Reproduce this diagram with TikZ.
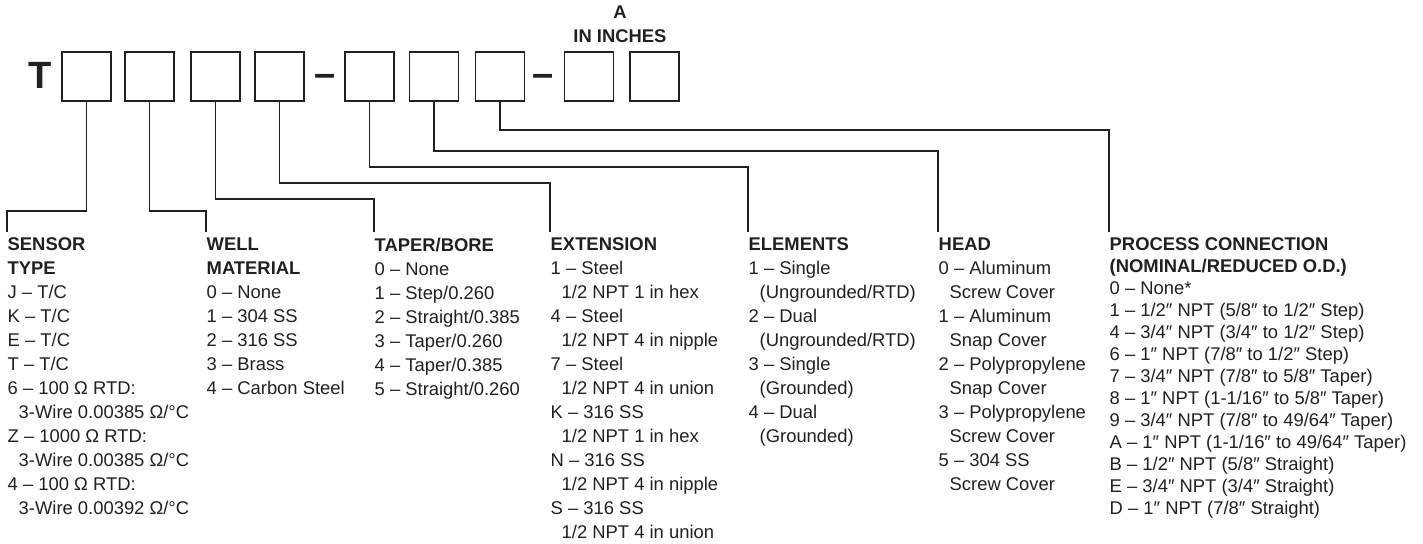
\documentclass[tikz,border=0pt]{standalone}
\usepackage{fontspec}
\setmainfont{Liberation Sans}
\definecolor{ink}{RGB}{35,31,32}
\newcommand{\ind}{\hspace*{5.5pt}}

\begin{document}
\begin{tikzpicture}[x=0.5pt, y=-0.5pt, ink, line width=0.7pt,
  codebox/.style={draw, line width=0.85pt, minimum width=24.5pt, minimum height=24.5pt, inner sep=0pt},
  bigchar/.style={font=\fontsize{19}{19}\selectfont\bfseries, inner sep=0pt, anchor=base},
  column/.style={align=left, anchor=north west, inner xsep=0pt, inner ysep=2.5pt, font=\fontsize{9.2}{12}\selectfont},
  proccolumn/.style={column, font=\fontsize{9.2}{11}\selectfont}]
  \useasboundingbox (0,0) rectangle (1423,544);

  % model code
  \node[bigchar] (t) at (40, 89) {T};
  \node[codebox] (b1) at (86.5, 76.5) {};
  \node[codebox] (b2) at (149.5, 76.5) {};
  \node[codebox] (b3) at (215.5, 76.5) {};
  \node[codebox] (b4) at (279.5, 76.5) {};
  \node[bigchar] (dash1) at (325.5, 87) {–};
  \node[codebox] (b5) at (369.5, 76.5) {};
  \node[codebox] (b6) at (434, 76.5) {};
  \node[codebox] (b7) at (500, 76.5) {};
  \node[bigchar] (dash2) at (543.5, 87) {–};
  \node[codebox] (b8) at (589, 76.5) {};
  \node[codebox] (b9) at (654.5, 76.5) {};
  \node[align=center, anchor=south, inner sep=0pt, font=\fontsize{9.2}{12}\selectfont\bfseries] (length) at (620, 43) {A\\IN INCHES};

  % option columns
  \node[column] (sensor) at (7, 232) {\textbf{SENSOR}\\\textbf{TYPE}\\J – T/C\\K – T/C\\E – T/C\\T – T/C\\6 – 100 Ω RTD:\\\ind 3-Wire 0.00385 Ω/°C\\Z – 1000 Ω RTD:\\\ind 3-Wire 0.00385 Ω/°C\\4 – 100 Ω RTD:\\\ind 3-Wire 0.00392 Ω/°C};
  \node[column] (well) at (206, 232) {\textbf{WELL}\\\textbf{MATERIAL}\\0 – None\\1 – 304 SS\\2 – 316 SS\\3 – Brass\\4 – Carbon Steel};
  \node[column] (taper) at (374, 232) {\textbf{TAPER/BORE}\\0 – None\\1 – Step/0.260\\2 – Straight/0.385\\3 – Taper/0.260\\4 – Taper/0.385\\5 – Straight/0.260};
  \node[column] (extension) at (550, 232) {\textbf{EXTENSION}\\1 – Steel\\\ind 1/2 NPT 1 in hex\\4 – Steel\\\ind 1/2 NPT 4 in nipple\\7 – Steel\\\ind 1/2 NPT 4 in union\\K – 316 SS\\\ind 1/2 NPT 1 in hex\\N – 316 SS\\\ind 1/2 NPT 4 in nipple\\S – 316 SS\\\ind 1/2 NPT 4 in union};
  \node[column] (elements) at (748, 232) {\textbf{ELEMENTS}\\1 – Single\\\ind (Ungrounded/RTD)\\2 – Dual\\\ind (Ungrounded/RTD)\\3 – Single\\\ind (Grounded)\\4 – Dual\\\ind (Grounded)};
  \node[column] (head) at (938, 232) {\textbf{HEAD}\\0 – Aluminum\\\ind Screw Cover\\1 – Aluminum\\\ind Snap Cover\\2 – Polypropylene\\\ind Snap Cover\\3 – Polypropylene\\\ind Screw Cover\\5 – 304 SS\\\ind Screw Cover};
  \node[proccolumn] (process) at (1109, 232) {\textbf{PROCESS CONNECTION}\\\textbf{(NOMINAL/REDUCED O.D.)}\\0 – None*\\1 – 1/2″ NPT (5/8″ to 1/2″ Step)\\4 – 3/4″ NPT (3/4″ to 1/2″ Step)\\6 – 1″ NPT (7/8″ to 1/2″ Step)\\7 – 3/4″ NPT (7/8″ to 5/8″ Taper)\\8 – 1″ NPT (1-1/16″ to 5/8″ Taper)\\9 – 3/4″ NPT (7/8″ to 49/64″ Taper)\\A – 1″ NPT (1-1/16″ to 49/64″ Taper)\\B – 1/2″ NPT (5/8″ Straight)\\E – 3/4″ NPT (3/4″ Straight)\\D – 1″ NPT (7/8″ Straight)};

  % leader lines
  \draw (b1.south) -- ++(0, 109) -| (sensor.north west);
  \draw (b2.south) -- ++(0, 109) -| (well.north west);
  \draw (b3.south) -- ++(0, 97) -| (taper.north west);
  \draw (b4.south) -- ++(0, 81) -| (extension.north west);
  \draw (b5.south) -- ++(0, 65) -| (elements.north west);
  \draw (b6.south) -- ++(0, 49) -| (head.north west);
  \draw (b7.south) -- ++(0, 28) -| (process.north west);
\end{tikzpicture}
\end{document}
